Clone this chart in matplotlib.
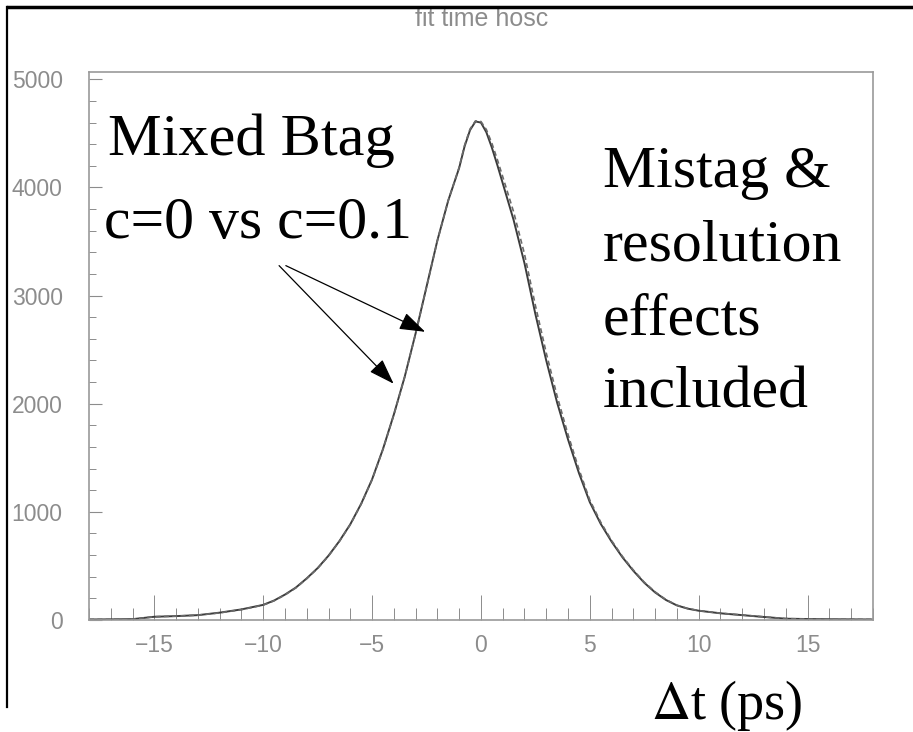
import numpy as np
import matplotlib
matplotlib.use('Agg')
import matplotlib.pyplot as plt
from matplotlib.lines import Line2D
from matplotlib.ticker import MultipleLocator

# delta t (ps) sample points
dt = [-18, -17, -16, -15, -14, -13, -12, -11,
      -10, -9.5, -9, -8.5, -8, -7.5, -7, -6.5, -6,
      -5.5, -5, -4.5, -4, -3.5, -3, -2.5, -2, -1.5,
      -1, -0.75, -0.5, -0.25, 0, 0.25, 0.5, 0.75, 1,
      1.5, 2, 2.5, 3, 3.5, 4, 4.5, 5, 5.5,
      6, 6.5, 7, 7.5, 8, 8.5, 9, 9.5, 10,
      11, 12, 13, 14, 15, 16, 17, 18]
# c = 0 (solid)
n_c0 = [5, 6, 8, 30, 36, 45, 68, 98,
        140, 180, 235, 300, 385, 480, 595, 730, 885,
        1075, 1300, 1580, 1900, 2250, 2650, 3080, 3510, 3880,
        4180, 4380, 4530, 4610, 4600, 4510, 4370, 4210, 4040,
        3700, 3300, 2830, 2400, 2010, 1670, 1360, 1090, 890,
        725, 580, 455, 345, 255, 185, 135, 105, 86,
        62, 45, 28, 12, 9, 7, 6, 5]
# c = 0.1 (dashed)
n_c01 = [5, 6, 8, 30, 36, 45, 66, 96,
         138, 178, 232, 297, 382, 477, 592, 727, 882,
         1072, 1297, 1577, 1897, 2247, 2647, 3077, 3507, 3880,
         4185, 4390, 4540, 4615, 4610, 4535, 4410, 4260, 4100,
         3775, 3385, 2910, 2470, 2070, 1715, 1395, 1110, 905,
         735, 588, 462, 350, 260, 188, 137, 106, 87,
         63, 46, 29, 13, 9, 7, 6, 5]

grey = '#8c8c8c'
tickfont = ['Liberation Sans Narrow', 'Liberation Sans', 'DejaVu Sans']
serif = ['Liberation Serif', 'DejaVu Serif']

fig = plt.figure(figsize=(9.13, 7.32), dpi=100)
ax = fig.add_axes([0.0975, 0.153, 0.8585, 0.749])

ax.plot(dt, n_c0, color='#3c3c3c', lw=1.4)
ax.plot(dt, n_c01, color='#6a6a6a', lw=1.2, ls=(0, (3, 2)))

ax.set_xlim(-18, 18)
ax.set_ylim(0, 5070)
ax.xaxis.set_major_locator(MultipleLocator(5))
ax.xaxis.set_minor_locator(MultipleLocator(1))
ax.yaxis.set_major_locator(MultipleLocator(1000))
ax.yaxis.set_minor_locator(MultipleLocator(200))
ax.tick_params(axis='x', which='major', direction='in', length=18, width=0.7,
               color=grey, labelcolor=grey, labelsize=16.5, pad=10)
ax.tick_params(axis='x', which='minor', direction='in', length=9, width=0.7, color=grey)
ax.tick_params(axis='y', which='major', direction='in', length=9.5, width=0.8,
               color=grey, labelcolor=grey, labelsize=16.5, pad=19)
ax.tick_params(axis='y', which='minor', direction='in', length=5, width=0.7, color=grey)
for lab in ax.get_xticklabels() + ax.get_yticklabels():
    lab.set_family(tickfont)
for s in ax.spines.values():
    s.set_color('#9a9a9a')
    s.set_linewidth(1.2)

# annotations
ax.text(-17.15, 4300, 'Mixed Btag', fontsize=43.5, family=serif, va='baseline')
ax.text(-17.3, 3530, 'c=0 vs c=0.1', fontsize=43, family=serif, va='baseline')
ax.text(5.6, 4385, 'Mistag &\nresolution\neffects\nincluded', fontsize=43,
        family=serif, va='top', linespacing=1.48)

arrow = dict(arrowstyle='-|>,head_length=1.6,head_width=0.55', color='black',
             lw=0.9, shrinkA=0, shrinkB=0)
ax.annotate('', xy=(-2.56, 2665), xytext=(-8.96, 3277), arrowprops=arrow)
ax.annotate('', xy=(-4.01, 2185), xytext=(-9.27, 3277), arrowprops=arrow)

fig.text(0.796, 0.018, r'$\Delta$t (ps)', fontsize=39, family=serif,
         ha='center', va='baseline', math_fontfamily='stix')
fig.text(0.528, 0.9645, 'fit time hosc', fontsize=18, color=grey,
         family=tickfont, ha='center', va='baseline')

# slide frame
fig.add_artist(Line2D([0.009, 1.0], [0.99, 0.99], color='black', lw=2.5,
                      transform=fig.transFigure, zorder=10))
fig.add_artist(Line2D([0.008, 0.008], [0.99, 0.034], color='black', lw=1.6,
                      transform=fig.transFigure, zorder=10))

fig.savefig('out.png', dpi=100, facecolor='white')
